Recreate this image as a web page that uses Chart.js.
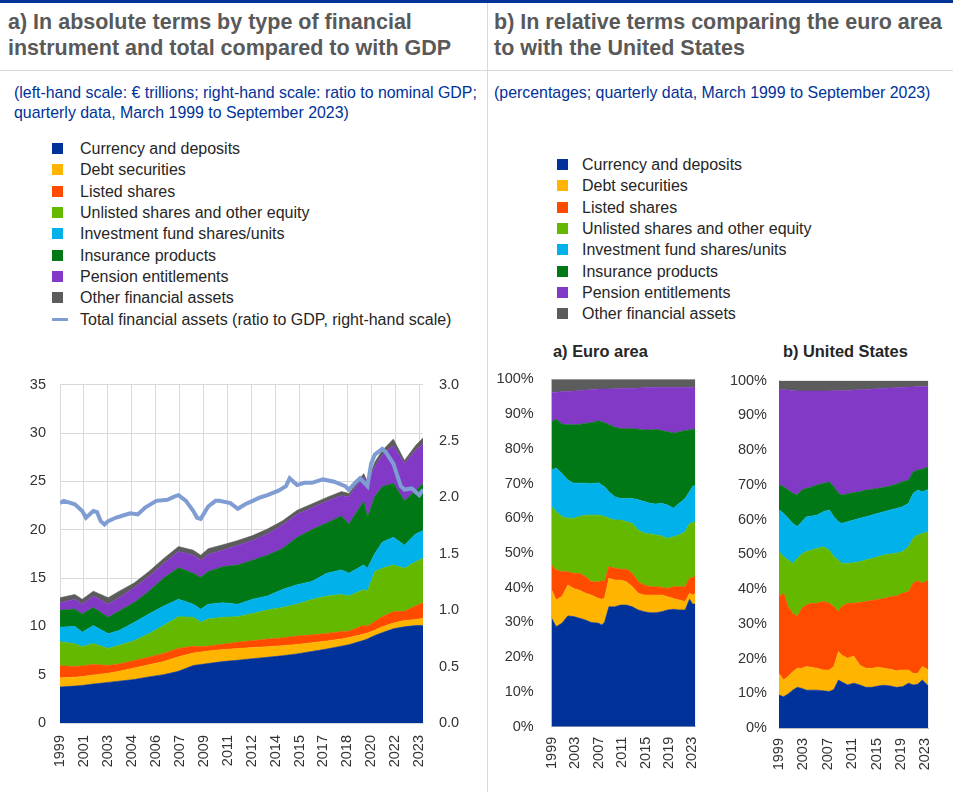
<!DOCTYPE html>
<html>
<head>
<meta charset="utf-8">
<title>Household financial assets</title>
<script src="https://cdn.jsdelivr.net/npm/chart.js@4.4.1/dist/chart.umd.min.js"></script>
<style>
  html, body { margin: 0; padding: 0; background: #fff; }
  body { position: relative; width: 953px; height: 792px; overflow: hidden;
         font-family: "Liberation Sans", Arial, sans-serif; }
  .abs { position: absolute; }
  .topbar { left: 0; top: 0; width: 953px; height: 3px; background: #003299; }
  .vsep { left: 487px; top: 3px; width: 1px; height: 789px; background: #d9d9d9; }
  .hsep { left: 0; top: 70px; width: 953px; height: 1px; background: #d9d9d9; }
  .hdr { font-weight: bold; font-size: 21.5px; line-height: 26px; color: #595959; white-space: nowrap; }
  .sub { font-size: 15.9px; line-height: 20px; color: #003299; white-space: nowrap; }
  .legend { font-size: 16px; color: #262626; }
  .legend .row { position: relative; height: 21.35px; line-height: 21.35px; white-space: nowrap; }
  .legend .sw { position: absolute; left: 0; top: 5px; width: 11px; height: 11px; }
  .legend .ln { position: absolute; left: 0; top: 9px; width: 16px; height: 3px; }
  .legend .tx { position: absolute; }
  .ctitle { font-weight: bold; font-size: 16.4px; color: #262626; white-space: nowrap; }
  canvas { position: absolute; }
</style>
</head>
<body>
<div class="abs topbar"></div>
<div class="abs vsep"></div>
<div class="abs hsep"></div>

<div class="abs hdr" style="left:8px; top:9px;">a) In absolute terms by type of financial<br>instrument and total compared to with GDP</div>
<div class="abs hdr" style="left:494px; top:9px;">b) In relative terms comparing the euro area<br>to with the United States</div>

<div class="abs sub" style="left:14px; top:83px;">(left-hand scale: € trillions; right-hand scale: ratio to nominal GDP;<br>quarterly data, March 1999 to September 2023)</div>
<div class="abs sub" style="left:494px; top:83px;">(percentages; quarterly data, March 1999 to September 2023)</div>

<div id="legendAbs" class="abs legend" style="left:52px; top:138px;"></div>
<div id="legendRel" class="abs legend" style="left:557px; top:154px;"></div>

<div class="abs ctitle" style="left:553px; top:342px;">a) Euro area</div>
<div class="abs ctitle" style="left:783px; top:342px;">b) United States</div>

<canvas id="absChart" width="480" height="432" style="left:0px; top:360px;"></canvas>
<canvas id="eaChart" width="232" height="452" style="left:488px; top:340px;"></canvas>
<canvas id="usChart" width="233" height="452" style="left:720px; top:340px;"></canvas>

<script>
// ---------- series names and colours ----------
const instrumentNames = [
  'Currency and deposits',
  'Debt securities',
  'Listed shares',
  'Unlisted shares and other equity',
  'Investment fund shares/units',
  'Insurance products',
  'Pension entitlements',
  'Other financial assets'
];
const ratioName = 'Total financial assets (ratio to GDP, right-hand scale)';
const instrumentColors = ['#003299', '#FFB400', '#FF4B00', '#65B800', '#00B1EA', '#007816', '#8139C6', '#5C5C5C'];
const ratioColor = '#7F9CD3';

// ---------- tick labels ----------
const absYearLabels = ['1999','2001','2003','2004','2006','2007','2009','2011','2012','2014','2015','2017','2018','2020','2022','2023'];
const relYearLabels = ['1999','2003','2007','2011','2015','2019','2023'];

// ---------- panel a: euro area households, € trillions ----------
const absPeriods = ['1999Q1','2000Q1','2000Q3','2001Q2','2002Q2','2003Q1','2004Q1','2005Q1','2006Q1','2007Q1',
  '2008Q1','2008Q3','2009Q1','2010Q1','2011Q1','2012Q1','2013Q1','2014Q1','2015Q1','2016Q1',
  '2017Q1','2018Q1','2018Q3','2019Q3','2019Q4','2020Q2','2020Q4','2021Q3','2022Q2','2023Q1','2023Q3'];
const absCurrency = [3.72,3.82,3.89,4.03,4.20,4.33,4.50,4.77,5.00,5.35,5.95,6.05,6.15,6.35,6.50,6.65,6.80,6.95,7.15,7.40,7.65,7.95,8.10,8.55,8.70,9.05,9.35,9.75,9.95,10.08,10.10];
const absDebt     = [0.95,0.92,0.91,0.94,0.95,1.02,1.19,1.25,1.36,1.50,1.30,1.30,1.30,1.25,1.20,1.15,1.10,1.05,0.97,0.90,0.83,0.75,0.75,0.65,0.60,0.55,0.60,0.60,0.65,0.62,0.75];
const absListed   = [1.25,1.11,1.10,1.08,0.80,0.75,0.76,0.78,0.84,0.87,0.70,0.55,0.50,0.55,0.65,0.70,0.78,0.80,0.88,0.80,0.77,0.75,0.65,0.90,0.70,0.90,1.05,1.15,0.95,1.40,1.60];
const absUnlisted = [2.48,2.35,2.00,2.17,1.77,1.95,2.05,2.44,2.88,3.28,2.98,2.52,2.81,2.78,2.65,2.84,3.00,3.15,3.28,3.69,3.88,3.85,3.63,3.70,3.64,5.17,5.00,4.84,4.45,4.58,4.57];
const absFunds    = [1.50,1.80,1.50,1.86,1.52,1.53,1.90,2.03,2.02,1.80,1.35,1.36,1.52,1.52,1.28,1.46,1.45,1.85,2.02,1.86,2.37,2.54,2.37,2.54,2.36,1.86,2.71,2.88,2.38,2.88,2.88];
const absInsurance= [1.77,1.78,1.87,1.87,1.69,2.02,2.05,2.37,2.90,3.25,3.22,3.28,3.39,3.72,4.06,4.05,4.23,4.24,4.90,5.35,5.20,5.58,5.10,6.60,5.25,5.90,5.73,5.59,4.62,4.44,4.90];
const absPension  = [0.78,1.02,1.01,1.18,1.35,1.36,1.53,1.52,1.50,1.70,1.86,1.79,1.76,1.70,2.04,2.03,2.20,2.43,2.40,2.27,2.24,2.10,2.80,2.54,3.39,3.07,3.26,3.89,3.84,4.19,4.07];
const absOther    = [0.51,0.50,0.52,0.51,0.68,0.68,0.50,0.51,0.52,0.50,0.51,0.51,0.61,0.57,0.50,0.51,0.51,0.43,0.40,0.40,0.40,0.42,0.35,0.32,0.33,0.50,0.50,0.67,0.33,0.51,0.63];

// total financial assets as a ratio to nominal GDP (right-hand scale)
const gdpPeriods = ['1999Q1','1999Q2','2000Q1','2000Q3','2000Q4','2001Q2','2001Q3','2001Q4','2002Q1','2002Q2',
  '2002Q4','2003Q2','2003Q4','2004Q2','2004Q4','2005Q3','2006Q2','2006Q4','2007Q1','2007Q3',
  '2008Q1','2008Q2','2008Q3','2009Q1','2009Q3','2009Q4','2010Q3','2011Q1','2011Q3','2012Q1',
  '2012Q3','2013Q1','2013Q4','2014Q2','2014Q3','2015Q1','2015Q3','2016Q1','2016Q4','2017Q3',
  '2018Q2','2018Q3','2019Q1','2019Q2','2019Q4','2020Q1','2020Q2','2020Q4','2021Q1','2021Q3',
  '2022Q1','2022Q2','2022Q4','2023Q2','2023Q3'];
const gdpRatio = [1.95,1.97,1.94,1.88,1.82,1.88,1.87,1.79,1.76,1.79,
  1.82,1.84,1.86,1.85,1.91,1.97,1.98,2.01,2.02,1.97,
  1.88,1.82,1.81,1.92,1.97,1.97,1.95,1.90,1.94,1.97,
  2.00,2.02,2.06,2.10,2.17,2.11,2.13,2.13,2.16,2.14,
  2.10,2.07,2.14,2.17,2.10,2.30,2.38,2.43,2.40,2.30,
  2.10,2.07,2.08,2.02,2.07];

// ---------- panel b: shares of total financial assets, % ----------
const eaPeriods = ['1999Q1','1999Q4','2000Q4','2001Q4','2002Q4','2003Q4','2004Q4','2005Q4','2007Q1','2007Q3',
  '2008Q1','2008Q4','2009Q4','2010Q4','2011Q4','2012Q4','2013Q4','2014Q4','2015Q4','2016Q4',
  '2017Q4','2018Q4','2019Q4','2020Q4','2021Q4','2022Q3','2023Q1','2023Q3'];
const eaCurrency = [31.2,28.8,29.8,31.9,31.7,31.2,30.7,30.0,29.8,29.3,30.0,34.5,34.5,35.0,35.0,34.5,33.6,33.1,32.8,32.8,33.1,33.6,33.8,33.6,33.6,36.7,35.3,35.3];
const eaDebt     = [8.1,7.7,7.7,8.9,8.1,8.1,7.7,7.9,7.1,7.4,7.0,8.2,7.7,7.2,6.7,5.8,4.8,4.8,5.1,5.1,4.8,3.8,3.1,2.9,2.4,1.7,2.6,3.1];
const eaListed   = [7.2,8.6,7.1,3.8,4.3,4.8,4.8,3.8,4.8,5.3,4.8,3.4,3.4,3.1,3.6,3.8,3.3,2.9,2.4,2.4,2.2,2.4,3.4,3.8,4.3,4.3,5.1,4.8];
const eaUnlisted = [16.8,16.8,15.9,15.4,15.9,16.4,17.7,19.2,19.2,18.7,18.7,13.9,13.9,14.2,13.7,14.4,14.9,14.9,15.2,14.9,14.8,14.4,14.4,14.9,15.8,15.8,15.7,15.8];
const eaFunds    = [10.6,12.6,12.4,11.0,10.1,9.6,9.2,9.0,9.3,8.9,8.6,7.6,6.7,6.2,6.7,7.2,8.7,9.1,8.8,8.9,9.4,9.6,8.2,9.1,9.6,9.2,10.4,10.6];
const eaInsurance= [13.9,14.0,14.2,15.9,16.8,16.9,17.2,17.6,17.9,18.2,18.4,19.3,20.0,20.1,20.1,20.1,20.3,20.6,21.1,21.5,20.9,21.1,21.6,20.6,19.5,17.7,16.5,16.0];
const eaPension  = [8.4,7.8,9.3,9.6,9.7,9.7,9.6,9.5,9.1,9.4,9.7,10.3,11.1,11.6,11.6,11.6,11.9,12.2,12.3,12.1,12.5,12.8,13.2,12.8,12.5,12.3,12.0,12.0];
const eaOther    = [3.8,3.7,3.6,3.5,3.4,3.3,3.1,3.0,2.8,2.8,2.8,2.8,2.7,2.6,2.6,2.6,2.5,2.4,2.3,2.3,2.3,2.3,2.3,2.3,2.3,2.3,2.4,2.4];

const usPeriods = ['1999Q1','1999Q4','2000Q3','2001Q2','2002Q1','2002Q4','2003Q3','2004Q2','2005Q2','2006Q2',
  '2007Q2','2008Q1','2008Q4','2009Q2','2010Q2','2011Q2','2012Q2','2013Q2','2014Q2','2015Q2',
  '2016Q2','2017Q2','2018Q2','2019Q2','2020Q2','2021Q1','2021Q4','2022Q3','2023Q3'];
const usCurrency = [9.5,9.0,9.8,10.9,11.7,11.4,10.9,10.9,10.9,10.7,10.5,11.1,13.8,13.3,12.4,12.9,12.4,11.7,11.7,12.1,12.3,12.1,11.7,11.9,12.9,12.4,12.6,13.8,12.1];
const usDebt     = [6.2,4.8,5.0,5.3,5.5,5.8,6.8,6.6,6.3,6.0,6.2,6.6,8.2,7.7,7.7,7.8,5.7,5.5,5.5,5.4,4.9,4.8,4.8,4.8,3.8,3.3,3.1,3.9,4.6];
const usListed   = [22.1,25.0,20.1,16.8,14.9,17.3,17.7,18.4,18.7,19.7,19.2,17.2,11.5,13.9,15.8,15.2,18.0,19.2,19.5,19.5,20.1,20.9,21.5,22.1,22.6,26.0,26.7,24.0,25.9];
const usUnlisted = [13.0,10.5,13.5,14.4,16.7,15.6,15.4,15.3,15.8,15.8,15.3,14.4,14.9,12.5,11.5,11.7,11.8,12.0,12.1,12.3,12.5,12.3,12.3,12.0,12.9,12.9,13.2,14.3,13.9];
const usFunds    = [12.0,12.5,12.0,11.5,9.2,9.3,10.0,9.8,9.6,10.1,11.6,11.5,11.0,11.5,12.0,12.3,12.5,12.4,12.5,12.5,12.5,12.7,12.9,12.9,12.5,13.0,12.9,12.0,12.2];
const usInsurance= [7.2,7.7,8.1,8.7,9.1,9.1,8.2,8.3,8.7,8.1,8.1,8.7,8.2,8.2,8.0,7.9,7.6,7.7,7.4,7.2,7.0,6.9,7.0,7.2,6.7,6.2,5.8,6.5,6.5];
const usPension  = [27.5,27.9,28.8,29.6,29.9,28.5,28.0,27.7,27.0,26.6,26.1,27.6,29.5,30.0,29.8,29.5,29.4,29.0,28.9,28.7,28.5,28.2,27.8,27.2,26.8,24.4,24.0,23.8,23.1];
const usOther    = [2.5,2.6,2.7,2.8,3.0,3.0,3.0,3.0,3.0,3.0,3.0,2.9,2.9,2.9,2.8,2.7,2.6,2.5,2.4,2.3,2.2,2.1,2.0,1.9,1.8,1.8,1.7,1.7,1.7];

// ---------- helpers ----------
// '2007Q3' -> number of quarters since March 1999
function quarterIndex(p) {
  const [y, q] = p.split('Q');
  return (Number(y) - 1999) * 4 + (Number(q) - 1);
}

function stackedAreas(periods, seriesList) {
  const xs = periods.map(quarterIndex);
  return seriesList.map((values, i) => ({
    type: 'line',
    label: instrumentNames[i],
    data: values.map((v, j) => ({ x: xs[j], y: v })),
    backgroundColor: instrumentColors[i],
    borderColor: instrumentColors[i],
    borderWidth: 0.6,
    pointRadius: 0,
    tension: 0,
    fill: i === 0 ? 'origin' : '-1',
    yAxisID: 'y'
  }));
}

Chart.defaults.font.family = '"Liberation Sans", Arial, sans-serif';
Chart.defaults.color = '#333333';

const tickFont = { size: 14.5 };
const gridColor = '#d9d9d9';

// ---------- legends ----------
function buildLegend(el, withRatio) {
  instrumentNames.forEach((name, i) => {
    const row = document.createElement('div');
    row.className = 'row';
    row.innerHTML = '<span class="sw" style="background:' + instrumentColors[i] + '"></span>' +
                    '<span class="tx" style="left:' + (withRatio ? 28 : 25) + 'px">' + name + '</span>';
    el.appendChild(row);
  });
  if (withRatio) {
    const row = document.createElement('div');
    row.className = 'row';
    row.innerHTML = '<span class="ln" style="background:' + ratioColor + '"></span>' +
                    '<span class="tx" style="left:28px">' + ratioName + '</span>';
    el.appendChild(row);
  }
}
buildLegend(document.getElementById('legendAbs'), true);
buildLegend(document.getElementById('legendRel'), false);

// ---------- panel a chart ----------
const gdpX = gdpPeriods.map(quarterIndex);
new Chart(document.getElementById('absChart'), {
  type: 'line',
  data: {
    datasets: [
      ...stackedAreas(absPeriods, [absCurrency, absDebt, absListed, absUnlisted, absFunds, absInsurance, absPension, absOther]),
      {
        type: 'line',
        label: ratioName,
        data: gdpRatio.map((v, j) => ({ x: gdpX[j], y: v })),
        borderColor: ratioColor,
        backgroundColor: ratioColor,
        borderWidth: 4,
        pointRadius: 0,
        tension: 0,
        fill: false,
        yAxisID: 'y1',
        order: -1
      }
    ]
  },
  options: {
    responsive: false,
    animation: false,
    devicePixelRatio: 1,
    layout: { padding: { top: 18, right: 0, bottom: 0, left: 0 } },
    plugins: { legend: { display: false }, tooltip: { enabled: false } },
    scales: {
      x: {
        type: 'linear', min: 0, max: 98,
        afterBuildTicks: (axis) => {
          const n = absYearLabels.length - 1;
          axis.ticks = absYearLabels.map((_, i) => ({ value: i * 97 / n }));
        },
        afterFit: (axis) => { axis.height = 69; },
        ticks: { callback: (v, i) => absYearLabels[i], autoSkip: false, minRotation: 90, maxRotation: 90, padding: 12, font: tickFont },
        grid: { color: gridColor, drawTicks: false },
        border: { color: gridColor }
      },
      y: {
        stacked: true, min: 0, max: 35,
        afterFit: (axis) => { axis.width = 60; },
        ticks: { stepSize: 5, padding: 14, font: tickFont },
        grid: { color: gridColor, drawTicks: false },
        border: { color: gridColor }
      },
      y1: {
        position: 'right', min: 0, max: 3,
        afterFit: (axis) => { axis.width = 57; },
        ticks: { stepSize: 0.5, padding: 16, font: tickFont, callback: (v) => Number(v).toFixed(1) },
        grid: { display: false, drawTicks: false },
        border: { display: false }
      }
    }
  }
});

// ---------- panel b charts ----------
function shareChart(id, periods, seriesList, yWidth, yPad, rightPad, topPad, xHeight) {
  return new Chart(document.getElementById(id), {
    type: 'line',
    data: { datasets: stackedAreas(periods, seriesList) },
    options: {
      responsive: false,
      animation: false,
      devicePixelRatio: 1,
      layout: { padding: { top: topPad, right: rightPad, bottom: 0, left: 0 } },
      plugins: { legend: { display: false }, tooltip: { enabled: false } },
      scales: {
        x: {
          type: 'linear', min: 0, max: 98,
          afterBuildTicks: (axis) => {
            axis.ticks = relYearLabels.map((y) => ({ value: quarterIndex(y + 'Q1') }));
          },
          afterFit: (axis) => { axis.height = xHeight; },
          ticks: { callback: (v, i) => relYearLabels[i], autoSkip: false, minRotation: 90, maxRotation: 90, padding: 10, font: tickFont },
          grid: { display: false, drawTicks: false },
          border: { color: '#bfbfbf' }
        },
        y: {
          stacked: true, min: 0, max: 100,
          afterFit: (axis) => { axis.width = yWidth; },
          ticks: { stepSize: 10, padding: yPad, font: tickFont, callback: (v) => v + '%' },
          grid: { display: false, drawTicks: false },
          border: { color: '#bfbfbf' }
        }
      }
    }
  });
}

shareChart('eaChart', eaPeriods,
  [eaCurrency, eaDebt, eaListed, eaUnlisted, eaFunds, eaInsurance, eaPension, eaOther],
  63.7, 18, 5, 39.3, 65.3);
shareChart('usChart', usPeriods,
  [usCurrency, usDebt, usListed, usUnlisted, usFunds, usInsurance, usPension, usOther],
  59, 12, 11.3, 40.7, 64);
</script>
</body>
</html>
